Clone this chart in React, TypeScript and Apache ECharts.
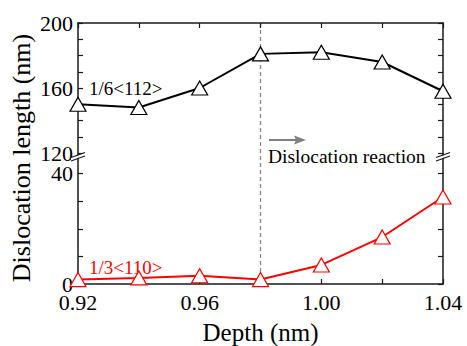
import React, { useEffect, useRef } from "react";
import * as echarts from "echarts";

// Indentation depth (nm)
const depth = [0.92, 0.94, 0.96, 0.98, 1.0, 1.02, 1.04];
// Shockley partials 1/6<112> length (nm)
const partialLength = [150, 148, 160, 181, 182, 176, 158];
// Perfect dislocations 1/3<110> length (nm)
const perfectLength = [1.6, 2.2, 3.0, 1.6, 6.9, 17, 31.5];

const xTicks = { min: 0.92, max: 1.04, step: 0.02 };
const upperRange = { min: 120, max: 200, step: 10 };
const lowerRange = { min: 0, max: 40, step: 10 };
const reactionDepth = 0.98;

const FONT = "Liberation Serif, Times New Roman, serif";
const AXIS = "#1a1a1a";

export default function App() {
  const ref = useRef<HTMLDivElement>(null);

  useEffect(() => {
    if (!ref.current) return;
    const chart = echarts.init(ref.current, undefined, { renderer: "svg" });

    const axisLine = { show: true, lineStyle: { color: AXIS, width: 1.5 } };
    const tick = { show: true, inside: true, length: 5, lineStyle: { color: AXIS, width: 1.2 } };
    const labelStyle = { color: "#000", fontFamily: FONT, fontSize: 22 };

    const xBase = {
      type: "value" as const,
      min: xTicks.min,
      max: xTicks.max,
      interval: xTicks.step,
      axisLine,
      axisTick: tick,
      splitLine: { show: false },
    };

    const yBase = (r: typeof upperRange, grid: number, pos: "left" | "right") => ({
      type: "value" as const,
      gridIndex: grid,
      position: pos,
      min: r.min,
      max: r.max,
      interval: r.step,
      axisLine,
      axisTick: tick,
      splitLine: { show: false },
      axisLabel:
        pos === "left"
          ? {
              ...labelStyle,
              margin: 5,
              formatter: (v: number) => (Math.round(v) % 40 === 0 ? String(Math.round(v)) : ""),
            }
          : { show: false },
    });

    const tri = (color: string) => ({
      type: "line" as const,
      symbol: "triangle",
      symbolSize: [16, 14],
      showSymbol: true,
      itemStyle: { color: "#fff", borderColor: color, borderWidth: 1.2 },
      lineStyle: { color, width: 2 },
      emphasis: { disabled: true },
    });

    chart.setOption({
      animation: false,
      grid: [
        { left: 78, right: 24, top: 23, height: 130 },
        { left: 78, right: 24, top: 173.5, height: 117.5 },
      ],
      xAxis: [
        { ...xBase, gridIndex: 0, position: "top", axisLabel: { show: false } },
        {
          ...xBase,
          gridIndex: 1,
          position: "bottom",
          name: "Depth (nm)",
          nameLocation: "middle",
          nameGap: 36,
          nameTextStyle: { color: "#000", fontFamily: FONT, fontSize: 25 },
          axisLabel: {
            ...labelStyle,
            margin: 7,
            formatter: (v: number) => (Math.round(v * 100) % 4 === 0 ? v.toFixed(2) : ""),
          },
        },
      ],
      yAxis: [
        yBase(upperRange, 0, "left"),
        yBase(upperRange, 0, "right"),
        yBase(lowerRange, 1, "left"),
        yBase(lowerRange, 1, "right"),
      ],
      series: [
        {
          ...tri("#000"),
          name: "1/6<112>",
          xAxisIndex: 0,
          yAxisIndex: 0,
          data: depth.map((d, i) => [d, partialLength[i]]),
        },
        {
          ...tri("#ff0000"),
          name: "1/3<110>",
          xAxisIndex: 1,
          yAxisIndex: 2,
          data: depth.map((d, i) => [d, perfectLength[i]]),
        },
      ],
    });

    const px = (o: any, v: number) => chart.convertToPixel(o, v) as number;
    const xL = px({ xAxisIndex: 0 }, xTicks.min);
    const xR = px({ xAxisIndex: 0 }, xTicks.max);
    const xReact = px({ xAxisIndex: 0 }, reactionDepth);
    const yTop = px({ yAxisIndex: 0 }, upperRange.max);
    const yBreakTop = px({ yAxisIndex: 0 }, upperRange.min);
    const yBreakBot = px({ yAxisIndex: 2 }, lowerRange.max);
    const yBot = px({ yAxisIndex: 2 }, lowerRange.min);
    const yB = yBreakTop + 3;

    const breakMark = (x: number) => [
      {
        type: "polygon",
        z: 10,
        shape: { points: [[x - 7, yB + 2], [x + 7, yB - 3], [x + 7, yB - 0.5], [x - 7, yB + 4.5]] },
        style: { fill: "#fff" },
      },
      {
        type: "line",
        z: 11,
        shape: { x1: x - 7, y1: yB + 1.5, x2: x + 7, y2: yB - 3.5 },
        style: { stroke: AXIS, lineWidth: 1.3 },
      },
      {
        type: "line",
        z: 11,
        shape: { x1: x - 7, y1: yB + 5, x2: x + 7, y2: yB },
        style: { stroke: AXIS, lineWidth: 1.3 },
      },
    ];

    chart.setOption({
      graphic: [
        {
          type: "line",
          z: 0,
          shape: { x1: xReact, y1: yTop, x2: xReact, y2: yBot },
          style: { stroke: "#888", lineWidth: 1.3, lineDash: [4, 3] },
        },
        {
          type: "line",
          shape: { x1: xL, y1: yBreakTop, x2: xL, y2: yBreakBot },
          style: { stroke: AXIS, lineWidth: 1.5 },
        },
        {
          type: "line",
          shape: { x1: xR, y1: yBreakTop, x2: xR, y2: yBreakBot },
          style: { stroke: AXIS, lineWidth: 1.5 },
        },
        ...breakMark(xL),
        ...breakMark(xR),
        {
          type: "line",
          shape: { x1: 269, y1: 140, x2: 300, y2: 140 },
          style: { stroke: "#808080", lineWidth: 2 },
        },
        {
          type: "polygon",
          shape: { points: [[306, 140], [294, 135.5], [296, 140], [294, 144.5]] },
          style: { fill: "#808080" },
        },
        {
          type: "text",
          x: 268,
          y: 156,
          style: {
            text: "Dislocation reaction",
            fontFamily: FONT,
            fontSize: 19.5,
            fill: "#000",
            verticalAlign: "middle",
          },
        },
        {
          type: "text",
          x: 89,
          y: 88,
          style: {
            text: "1/6<112>",
            fontFamily: FONT,
            fontSize: 19,
            fill: "#000",
            verticalAlign: "middle",
          },
        },
        {
          type: "text",
          x: 89,
          y: 267,
          style: {
            text: "1/3<110>",
            fontFamily: FONT,
            fontSize: 19,
            fill: "#ff0000",
            verticalAlign: "middle",
          },
        },
        {
          type: "text",
          x: 21,
          y: 158,
          rotation: Math.PI / 2,
          style: {
            text: "Dislocation length (nm)",
            fontFamily: FONT,
            fontSize: 26,
            fill: "#000",
            align: "center",
            verticalAlign: "middle",
          },
        },
      ],
    });

    return () => chart.dispose();
  }, []);

  return (
    <div
      ref={ref}
      style={{ position: "fixed", left: 0, top: 0, width: 467, height: 346, background: "#fff" }}
    />
  );
}
